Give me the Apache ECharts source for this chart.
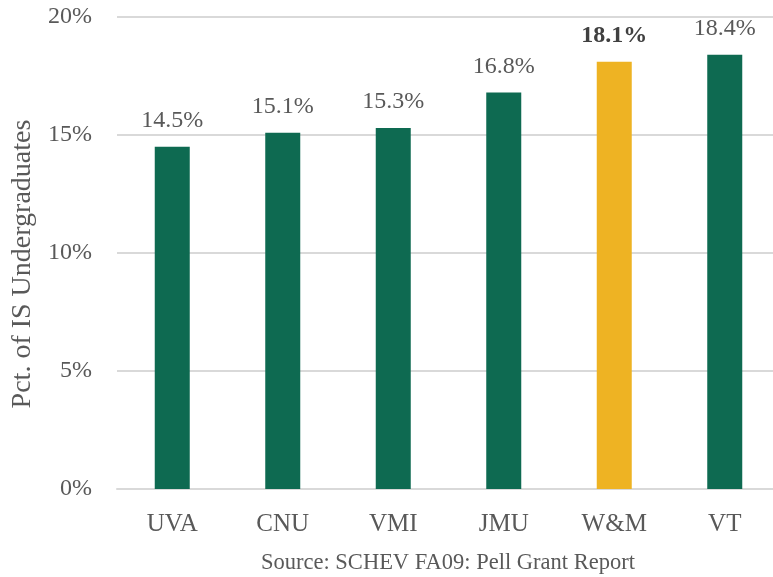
<!DOCTYPE html>
<html>
<head>
<meta charset="utf-8">
<script src="https://cdn.jsdelivr.net/npm/echarts@6/dist/echarts.min.js"></script>
<style>
  html, body { margin: 0; padding: 0; background: #fff; }
  #chart { width: 773px; height: 577px; }
</style>
</head>
<body>
<div id="chart"></div>
<script>
const schools = ['UVA', 'CNU', 'VMI', 'JMU', 'W&M', 'VT'];
const pellPct = [14.5, 15.1, 15.3, 16.8, 18.1, 18.4];
const highlight = 'W&M';
const yTicks = [0, 5, 10, 15, 20];

const FONT = '"Liberation Serif", "Times New Roman", serif';
const GREEN = '#0e6a51';
const GOLD = '#eeb323';
const TEXT = '#595959';

const chart = echarts.init(document.getElementById('chart'));

const barData = pellPct.map((v, i) => {
  const hi = schools[i] === highlight;
  return {
    value: v,
    itemStyle: { color: hi ? GOLD : GREEN },
    label: { fontWeight: hi ? 'bold' : 'normal', color: hi ? '#404040' : TEXT }
  };
});

chart.setOption({
  animation: false,
  textStyle: { fontFamily: FONT },
  grid: { left: 117, right: -7, top: 17, bottom: 88, outerBoundsMode: 'none' },
  xAxis: {
    type: 'category',
    data: schools,
    axisTick: { show: false },
    axisLine: { show: true, lineStyle: { color: '#d9d9d9', width: 2 } },
    axisLabel: { color: TEXT, fontSize: 25, fontFamily: FONT, margin: 23 }
  },
  yAxis: {
    type: 'value',
    min: yTicks[0],
    max: yTicks[yTicks.length - 1],
    interval: 5,
    name: 'Pct. of IS Undergraduates',
    nameLocation: 'middle',
    nameGap: 80,
    nameTextStyle: { color: TEXT, fontSize: 28, fontFamily: FONT, padding: [0, 22, 0, 0] },
    axisLine: { show: false },
    axisTick: { show: false },
    splitLine: { lineStyle: { color: '#d9d9d9', width: 2 } },
    axisLabel: { color: TEXT, fontSize: 24, fontFamily: FONT, margin: 25, formatter: '{value}%' }
  },
  series: [{
    type: 'bar',
    data: barData,
    barWidth: 35,
    label: {
      show: true,
      position: 'top',
      distance: 14,
      fontSize: 24,
      fontFamily: FONT,
      color: TEXT,
      formatter: p => p.value.toFixed(1) + '%'
    }
  }],
  graphic: [{
    type: 'text',
    left: 261,
    top: 552,
    style: {
      text: 'Source: SCHEV FA09: Pell Grant Report',
      fill: TEXT,
      font: '22.5px ' + FONT
    }
  }]
});
</script>
</body>
</html>
